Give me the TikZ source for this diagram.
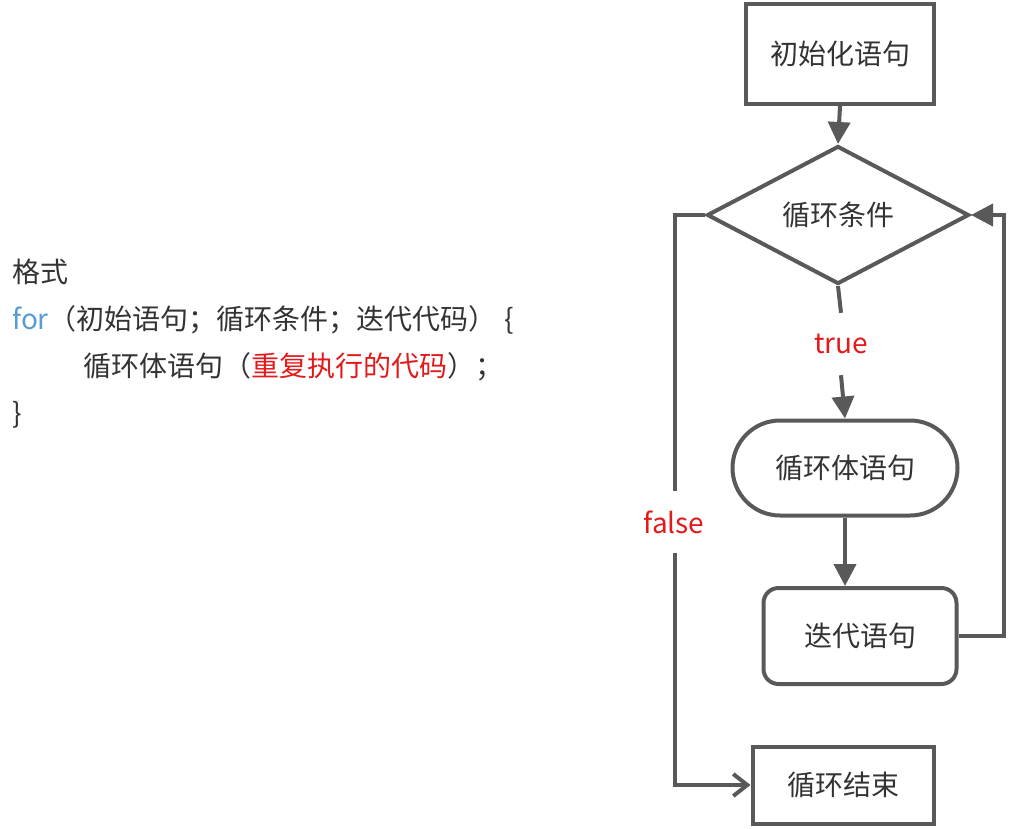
\documentclass[tikz,border=0pt]{standalone}
\usepackage{fontspec}
\setmainfont{Noto Sans CJK SC}
\usetikzlibrary{shapes.geometric,shapes.misc,arrows.meta}
\definecolor{lc}{HTML}{595959}
\definecolor{tc}{HTML}{333333}
\definecolor{kw}{HTML}{5B9BD5}
\definecolor{rd}{HTML}{E31A1C}
\begin{document}
\begin{tikzpicture}[x=1pt,y=-1pt,
  txt/.style={font=\fontsize{28}{33}\selectfont, text=tc, inner sep=0pt},
  box/.style={draw=lc, line width=4pt, txt},
  lbl/.style={font=\fontsize{28}{33}\selectfont, text=rd, inner sep=0pt, minimum height=62pt},
  conn/.style={draw=lc, line width=4pt},
  fillarrow/.style={conn, -{Triangle[length=22pt,width=22pt]}},
  openarrow/.style={conn, -{Straight Barb[length=14pt,width=22pt]}}
]
\useasboundingbox (0,0) rectangle (1009,828);
% left text
\node[txt, anchor=base west] (l1) at (12,282) {格式};
\node[txt, anchor=base west] (l2) at (12,329) {\textcolor{kw}{for}（初始语句；循环条件；迭代代码）\hspace{8pt}\{};
\node[txt, anchor=base west] (l3) at (83,376) {循环体语句（\textcolor{rd}{重复执行的代码}）；};
\node[txt, anchor=base west] (l4) at (12,423) {\}};
% flowchart
\node[box, rectangle, minimum width=188pt, minimum height=100pt] (init) at (840,54) {初始化语句};
\node[box, diamond, minimum width=262pt, minimum height=137pt] (cond) at (838,215) {循环条件};
\node[box, rounded rectangle, minimum width=225pt, minimum height=95pt] (body) at (845,468) {循环体语句};
\node[box, rectangle, rounded corners=15pt, minimum width=193pt, minimum height=96pt] (iter) at (860,636) {迭代语句};
\node[box, rectangle, minimum width=181pt, minimum height=77pt] (end) at (843,785) {循环结束};
\node[lbl] (true) at (841,344) {true};
\node[lbl] (false) at (674,522) {false};
\coordinate (fl) at (675,215);
\coordinate (fb) at (675,785);
\coordinate (rr) at (1004,636);
% connectors
\draw[fillarrow] (init.south) -- (cond.north);
\draw[conn] (cond.south) -- (true.north);
\draw[fillarrow] (true.south) -- (body.north);
\draw[fillarrow] (body.south) -- (body.south |- iter.north);
\draw[fillarrow] (iter.east) -- (rr) |- (cond.east);
\draw[conn] (cond.west) -- (fl) -- (false.north -| fl);
\draw[openarrow] (false.south -| fl) -- (fb) -- (end.west);
\end{tikzpicture}
\end{document}
